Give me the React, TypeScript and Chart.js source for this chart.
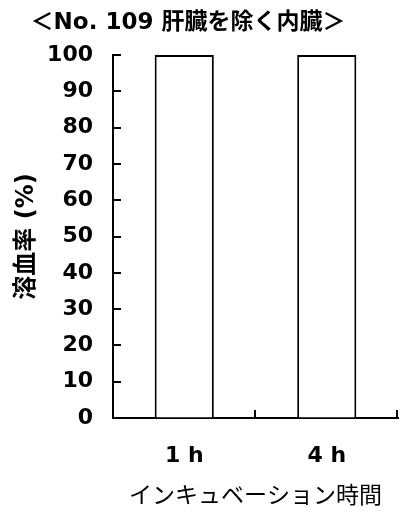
import React, { useEffect, useRef } from "react";
import { Chart, registerables } from "chart.js";

Chart.register(...registerables);

const titleText = "＜No. 109 肝臓を除く内臓＞";
const categories = ["1 h", "4 h"];
const hemolysis = [100, 100];
const yTitle = "溶血率 (%)";
const xTitle = "インキュベーション時間";
const yMin = 0;
const yMax = 100;
const yStep = 10;

const FONT = "'DejaVu Sans', 'Noto Sans CJK JP', sans-serif";

const inwardTicks = {
  id: "inwardTicks",
  afterDraw(chart: any) {
    const { ctx, chartArea, scales } = chart;
    const x = scales.x;
    const y = scales.y;
    ctx.save();
    ctx.strokeStyle = "#000";
    ctx.lineWidth = 2;
    y.ticks.forEach((t: any) => {
      if (t.value === yMin) return;
      const py = Math.round(y.getPixelForValue(t.value));
      ctx.beginPath();
      ctx.moveTo(chartArea.left, py);
      ctx.lineTo(chartArea.left + 8, py);
      ctx.stroke();
    });
    for (let i = 1; i <= categories.length; i++) {
      const px = Math.round(x.getPixelForValue(i - 0.5));
      ctx.beginPath();
      ctx.moveTo(px - 1, chartArea.bottom);
      ctx.lineTo(px - 1, chartArea.bottom - 8);
      ctx.stroke();
    }
    ctx.restore();
  },
};

const titlePlugin = {
  id: "customTitle",
  afterDraw(chart: any) {
    const { ctx } = chart;
    ctx.save();
    ctx.fillStyle = "#000";
    ctx.font = `bold 23px ${FONT}`;
    ctx.textAlign = "center";
    ctx.textBaseline = "middle";
    ctx.fillText(titleText, chart.width / 2 - 12, 23);
    ctx.restore();
  },
};

export default function App() {
  const ref = useRef<HTMLCanvasElement | null>(null);
  useEffect(() => {
    if (!ref.current) return;
    const chart = new Chart(ref.current, {
      type: "bar",
      data: {
        labels: categories,
        datasets: [
          {
            data: hemolysis,
            backgroundColor: "#fff",
            borderColor: "#000",
            borderWidth: 2,
            barPercentage: 0.415,
            categoryPercentage: 1,
          },
        ],
      },
      options: {
        animation: false,
        responsive: false,
        layout: { padding: { top: 55, right: 2, left: 0, bottom: 0 } },
        plugins: { legend: { display: false }, tooltip: { enabled: false }, title: { display: false } },
        scales: {
          x: {
            grid: { display: true, drawOnChartArea: false, drawTicks: false },
            border: { display: true, color: "#000", width: 2 },
            ticks: { color: "#000", padding: 25, maxRotation: 0, font: { family: FONT, size: 22, weight: "bold" } },
            title: {
              display: true,
              text: xTitle,
              color: "#000",
              font: { family: FONT, size: 23, weight: "normal" },
              padding: { top: 0, bottom: 2 },
            },
            afterFit(scale: any) {
              scale.height = 95;
            },
          },
          y: {
            min: yMin,
            max: yMax,
            grid: { display: true, drawOnChartArea: false, drawTicks: false },
            border: { display: true, color: "#000", width: 2 },
            ticks: { stepSize: yStep, color: "#000", padding: 20, font: { family: FONT, size: 22, weight: "bold" } },
            title: {
              display: true,
              text: yTitle,
              color: "#000",
              font: { family: FONT, size: 24, weight: "bold" },
              padding: { top: 12, bottom: 0 },
            },
            afterFit(scale: any) {
              scale.width = 113;
            },
          },
        },
      },
      plugins: [inwardTicks, titlePlugin],
    });
    return () => chart.destroy();
  }, []);
  return (
    <div style={{ position: "absolute", left: 0, top: 0, width: 400, height: 513, background: "#fff" }}>
      <canvas ref={ref} width={400} height={513} style={{ width: 400, height: 513 }} />
    </div>
  );
}
